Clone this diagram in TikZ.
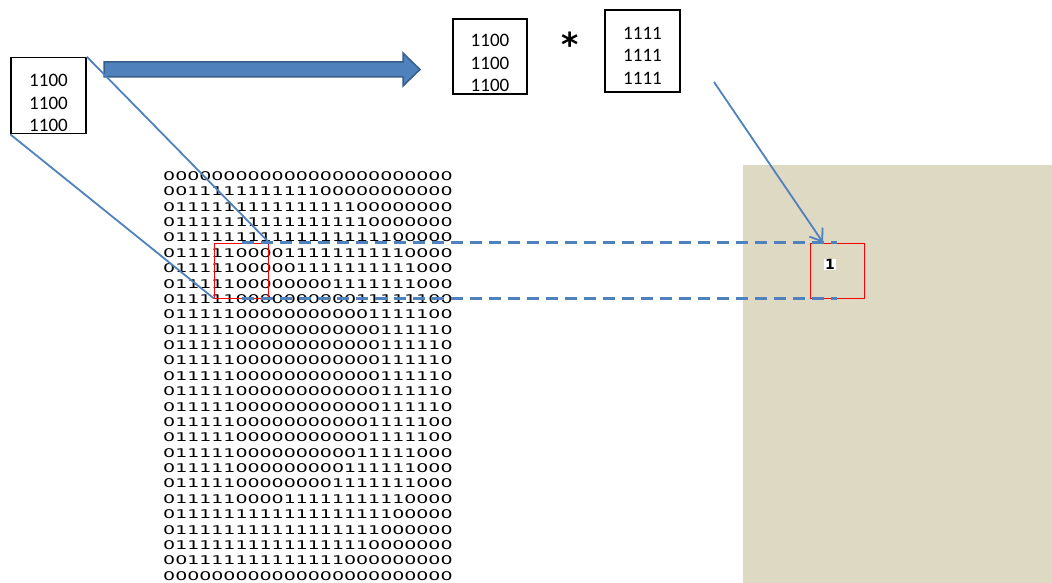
\documentclass[tikz,border=0pt]{standalone}
\usepackage{fontspec}
\setmainfont{Carlito}
\newfontfamily\bitfont[FakeStretch=1.58]{DejaVu Sans}
\newfontfamily\symfont{DejaVu Sans}
\usepackage{xcolor}
\definecolor{lineblue}{HTML}{4F81BD}
\definecolor{arrowedge}{HTML}{385D8A}
\definecolor{sand}{HTML}{DDD9C3}
\usepackage{tikz}
\usetikzlibrary{arrows.meta}
\tikzset{
  kbox/.style   = {rectangle, draw=black, line width=1.6pt, minimum width=75pt,
                   minimum height=76pt, inner sep=0pt},
  ktext/.style  = {align=center, inner sep=0pt, font=\fontsize{19}{22.5}\selectfont},
  bitrow/.style = {anchor=west, inner sep=0pt, font=\bitfont\fontsize{12}{12}\selectfont},
  hit/.style    = {rectangle, draw=red, line width=1pt, minimum width=54pt,
                   minimum height=55pt, inner sep=0pt},
  link/.style   = {draw=lineblue, line width=1.8pt},
  proj/.style   = {draw=lineblue, line width=2.2pt, dash pattern=on 12pt off 7pt},
  pick/.style   = {draw=lineblue, line width=1.8pt, -{Straight Barb[length=11pt,width=16pt]}}
}

\begin{document}
\begin{tikzpicture}[x=1pt,y=-1pt]
  \useasboundingbox (0,0) rectangle (1052,583);
  \fill[sand] (743,165) rectangle (1052,583);

  % kernel boxes
  \node[kbox] (kin) at (48.5,95.5) {};
  \node[ktext] (kin-t) at ([yshift=-7.5pt]kin.center) {1100\\1100\\1100};
  \node[kbox, minimum width=74pt, minimum height=75pt] (kmid) at (490,56.5) {};
  \node[ktext] (kmid-t) at ([yshift=-6.5pt]kmid.center) {1100\\1100\\1100};
  \node[font=\symfont\bfseries\fontsize{33}{33}\selectfont, anchor=base, inner sep=0pt]
       (star) at (570,57) {*};
  \node[kbox, minimum height=82pt] (kw) at (642.5,51) {};
  \node[ktext] (kw-t) at ([yshift=-4.5pt]kw.center) {1111\\1111\\1111};

  \draw[fill=lineblue, draw=arrowedge, line width=1.5pt]
    (104,62) -- (403,62) -- (403,53) -- (420,69.5) -- (403,86) -- (403,77) -- (104,77) -- cycle;

  % binary image
  \begin{scope}
    \clip (150,160) rectangle (453,583);
    \foreach \bits [count=\i] in {
        000000000000000000000000, 001111111111100000000000,
        011111111111111100000000, 011111111111111110000000,
        011111111111111111100000, 011111000011111111110000,
        011111000001111111111000, 011111000000001111111000,
        011111000000000011111100, 011111000000000001111100,
        011111000000000000111110, 011111000000000000111110,
        011111000000000000111110, 011111000000000000111110,
        011111000000000000111110, 011111000000000000111110,
        011111000000000001111100, 011111000000000001111100,
        011111000000000011111000, 011111000000000111111000,
        011111000000001111111000, 011111000011111111110000,
        011111111111111111100000, 011111111111111111000000,
        011111111111111110000000, 001111111111111000000000,
        000000000000000000000000}
      \node[bitrow] (b\i) at (163,{176+15.38*(\i-1)}) {\bits};
  \end{scope}

  \node[hit] (hl) at (241.5,270.5) {};
  \node[hit] (hr) at (837,270.5) {};
  \node[font=\symfont\bfseries\fontsize{14}{14}\selectfont, fill=white, inner sep=0.8pt]
       (res) at (830,264.5) {1};

  \draw[link] (kin.north east) -- (hl.north east);
  \draw[link] (kin.south west) -- (hl.south west);
  \draw[proj] (hl.north) -- (hr.north);
  \draw[proj] (hl.south) -- (hr.south);
  \coordinate (kfrom) at (714,82);
  \draw[pick] (kfrom) -- ([xshift=-14pt]hr.north);
\end{tikzpicture}
\end{document}
